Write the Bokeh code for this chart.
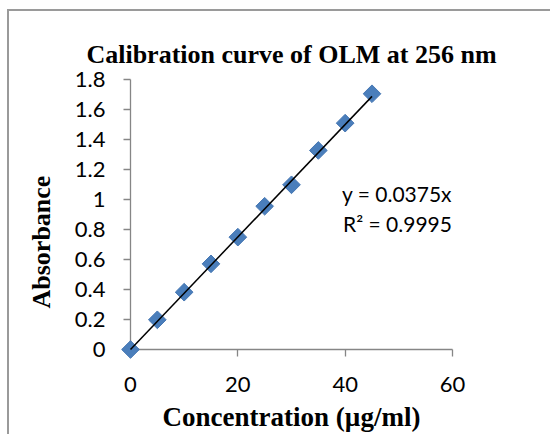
from bokeh.plotting import figure
from bokeh.models import Range1d, FixedTicker, Label, Title, ColumnDataSource
from bokeh.embed import file_html
from bokeh.resources import INLINE
import numpy as np

# ---- data ----
concentration = [0, 5, 10, 15, 20, 25, 30, 35, 40, 45]
absorbance = [0.0, 0.198, 0.382, 0.571, 0.749, 0.955, 1.098, 1.327, 1.509, 1.705]
slope = 0.0375
equation_text = "y = 0.0375x"
r2_text = "R\u00b2 = 0.9995"
x_ticks = [0, 20, 40, 60]
x_tick_labels = ["0", "20", "40", "60"]
y_ticks = [0, 0.2, 0.4, 0.6, 0.8, 1.0, 1.2, 1.4, 1.6, 1.8]
y_tick_labels = ["0", "0.2", "0.4", "0.6", "0.8", "1", "1.2", "1.4", "1.6", "1.8"]
title_text = "Calibration curve of OLM at 256 nm"
x_label = "Concentration (\u00b5g/ml)"
y_label = "Absorbance"

p = figure(width=550, height=434, x_range=Range1d(0, 60), y_range=Range1d(0, 1.8),
           output_backend="svg", toolbar_location=None,
           min_border_left=130, min_border_right=98, min_border_top=79, min_border_bottom=85)
p.outline_line_color = None
p.xgrid.visible = False
p.ygrid.visible = False
p.background_fill_color = "white"
p.border_fill_alpha = 0

# Excel chart-area border (left and top edges visible in the reference)
border = "#9a9a9a"
p.styles = {
    "background-color": "white",
    "background-image": f"linear-gradient({border},{border}), linear-gradient({border},{border})",
    "background-size": "2px 100%, 100% 2px",
    "background-position": "7px 9px, 7px 9px",
    "background-repeat": "no-repeat",
}

axis_color = "#868686"
for ax, ticks, labels, standoff in ((p.xaxis, x_ticks, x_tick_labels, 20), (p.yaxis, y_ticks, y_tick_labels, 18)):
    ax.ticker = FixedTicker(ticks=ticks)
    ax.major_label_overrides = {t: l for t, l in zip(ticks, labels)}
    ax.axis_line_color = axis_color
    ax.axis_line_width = 1.3
    ax.major_tick_line_color = axis_color
    ax.major_tick_line_width = 1.3
    ax.major_tick_in = 0
    ax.major_tick_out = 7
    ax.minor_tick_line_color = None
    ax.major_label_text_font = "Lato"
    ax.major_label_text_font_size = "22px"
    ax.major_label_text_color = "black"
    ax.major_label_standoff = standoff

serif = "Liberation Serif"

# x-axis title
p.xaxis.axis_label = x_label
p.xaxis.axis_label_text_font = serif
p.xaxis.axis_label_text_font_style = "bold"
p.xaxis.axis_label_text_font_size = "27px"
p.xaxis.axis_label_text_color = "black"
p.xaxis.axis_label_standoff = 7

# chart title
p.title.text = title_text
p.title.text_font = serif
p.title.text_font_style = "bold"
p.title.text_font_size = "26px"
p.title.text_color = "black"
p.title.align = "center"
p.title.vertical_align = "bottom"
p.title.standoff = 21

# y-axis title
p.add_layout(Title(text=y_label, text_font=serif, text_font_style="bold",
                   text_font_size="26px", text_color="black", align="left",
                   offset=41, vertical_align="bottom", standoff=31), "left")

# trendline from the equation
x_line = [min(concentration), max(concentration)]
y_line = [slope * v for v in x_line]

src = ColumnDataSource(dict(x=concentration, y=absorbance))
p.scatter("x", "y", source=src, marker="square", size=12.5, angle=np.pi / 4,
          fill_color="#4a7ebb", line_color="#4677b3", line_width=1, level="overlay")
p.line(x_line, y_line, line_color="black", line_width=1.5, level="overlay")

p.add_layout(Label(x=211.5, y=156, x_units="screen", y_units="screen", text=equation_text,
                   text_font="Lato", text_font_size="21px", text_align="left",
                   text_baseline="alphabetic", text_color="black"))
p.add_layout(Label(x=212.5, y=126, x_units="screen", y_units="screen", text=r2_text,
                   text_font="Lato", text_font_size="21px", text_align="left",
                   text_baseline="alphabetic", text_color="black"))

open("out.html", "w").write(file_html(p, INLINE))
